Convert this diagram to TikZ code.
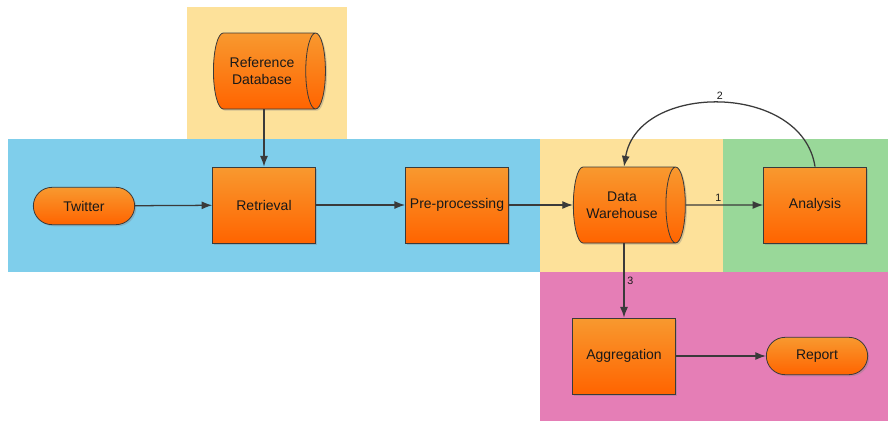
\documentclass[tikz,border=0pt]{standalone}
\usepackage{fontspec}
\setmainfont{Liberation Sans}
\usepackage{tikz}
\definecolor{lane-yellow}{HTML}{FDE19A}
\definecolor{lane-blue}{HTML}{7FCEEB}
\definecolor{lane-green}{HTML}{99D899}
\definecolor{lane-pink}{HTML}{E57EB6}
\definecolor{box-top}{HTML}{F8992F}
\definecolor{box-bottom}{HTML}{FF6400}
\definecolor{line-dark}{HTML}{3A3A3A}
\usetikzlibrary{positioning,shapes.geometric,shadows,arrows.meta}

\tikzset{
  block/.style={draw=line-dark,semithick,top color=box-top,bottom color=box-bottom,
    drop shadow={shadow xshift=1.2pt,shadow yshift=-1.2pt,opacity=.35},
    text=black!90,font=\fontsize{10.5}{12.5}\selectfont,align=center},
  procbox/.style={block,rectangle,minimum width=77pt,minimum height=57pt},
  termbox/.style={block,rectangle,rounded corners=14pt,minimum width=76pt,minimum height=28pt},
  storebox/.style={block,cylinder,shape border rotate=0,shape aspect=.55,
    minimum width=57pt,minimum height=84pt},
  flow/.style={->,draw=line-dark,line width=.95pt},
  num/.style={font=\fontsize{8}{9}\selectfont,text=black!90,inner sep=2pt}
}

\begin{document}
\begin{tikzpicture}[x=0.75pt,y=-0.75pt,>={Latex[length=8pt,width=6pt]}]
\useasboundingbox (0,0) rectangle (888,421);
% lanes
\fill[lane-yellow] (187,7) rectangle (347,139);
\fill[lane-blue] (8,139) rectangle (540,272);
\fill[lane-yellow] (540,139) rectangle (723,272);
\fill[lane-green] (723,139) rectangle (888,272);
\fill[lane-pink] (540,272) rectangle (888,421);
% steps
\node[storebox] (refdb) at (262,71) {Reference\\Database};
\node[termbox] (twitter) at (84,206) {Twitter};
\node[procbox] (retrieval) at (264,205) {Retrieval};
\node[procbox] (preproc) at (457,205) {Pre-processing};
\node[storebox] (dw) at (622,205) {Data\\Warehouse};
\node[procbox] (analysis) at (815,205) {Analysis};
\node[procbox] (aggr) at (624,356) {Aggregation};
\node[termbox] (report) at (817,356) {Report};
% flows
\draw[flow] (twitter)--(retrieval);
\draw[flow] (retrieval.north |- refdb.south)--(retrieval.north);
\draw[flow] (retrieval)--(preproc);
\draw[flow] (preproc)--(dw.west);
\draw[flow] (dw.east)--(analysis) node[pos=.42,above,num]{1};
\draw[flow] (analysis.north) .. controls (802,82) and (638,82) .. (aggr.north |- dw.north)
  node[pos=.5,above,num]{2};
\draw[flow] (aggr.north |- dw.south)--(aggr.north) node[midway,right,num]{3};
\draw[flow] (aggr)--(report);
\end{tikzpicture}
\end{document}
